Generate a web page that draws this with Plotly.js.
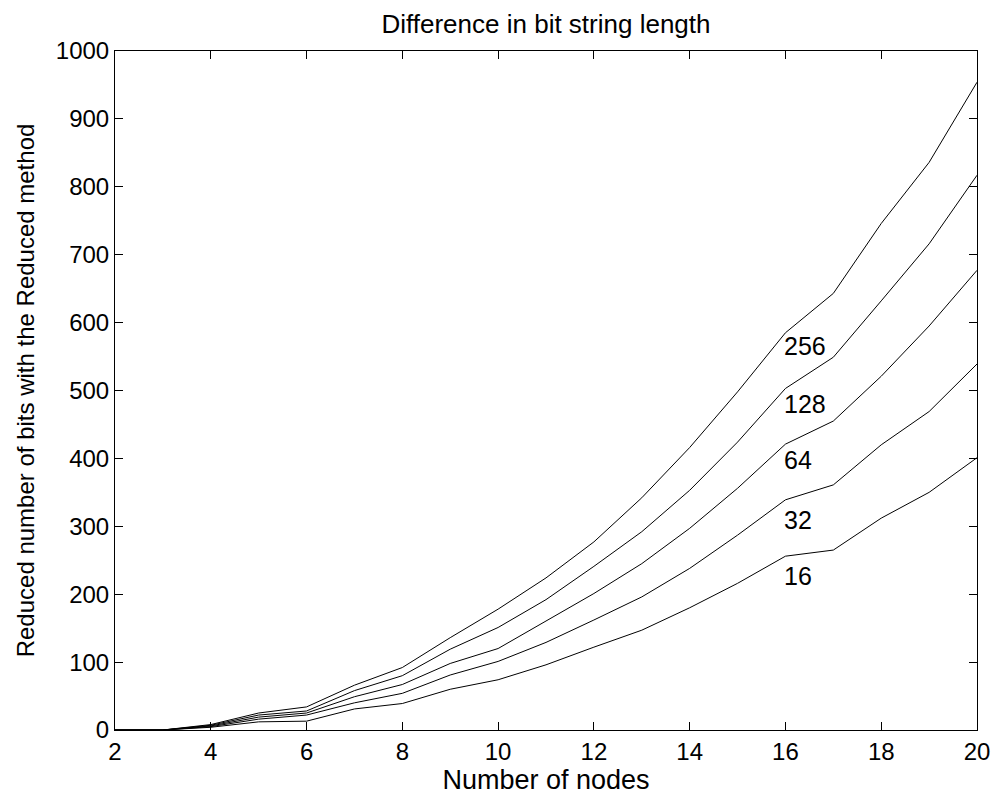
<!DOCTYPE html>
<html>
<head>
<meta charset="utf-8">
<script src="https://cdn.plot.ly/plotly-3.0.1.min.js"></script>
<style>html,body{margin:0;padding:0;background:#fff;}#chart{width:994px;height:796px;}</style>
</head>
<body>
<div id="chart"></div>
<script>
const nodes = [2,3,4,5,6,7,8,9,10,11,12,13,14,15,16,17,18,19,20];
const series16  = [0,0,4,12,13,31,39,60,74,96,122,147,180,216,256,265,312,350,401];
const series32  = [0,0,5,16,22,40,54,81,101,129,162,196,238,287,339,361,420,469,539];
const series64  = [0,0,6,19,25,49,67,98,120,160,201,245,297,356,421,455,521,595,677];
const series128 = [0,0,7,22,28,58,80,119,151,192,241,292,353,424,503,549,632,716,817];
const series256 = [0,0,8,25,34,66,92,136,178,224,277,342,416,498,585,643,746,836,954];
const seriesNames = ['16','32','64','128','256'];
const labelX = [16,16,16,16,16];
const labelY = [227,310,398,480,565];

const allSeries = [series16, series32, series64, series128, series256];
const font = 'Liberation Sans, Arial, Helvetica, sans-serif';

const traces = allSeries.map((s, i) => ({
  x: nodes, y: s, type: 'scatter', mode: 'lines', name: seriesNames[i],
  line: {color: '#000', width: 1}, showlegend: false, hoverinfo: 'skip'
}));

const annotations = seriesNames.map((n, i) => ({
  x: labelX[i], y: labelY[i], xref: 'x', yref: 'y', text: n, showarrow: false,
  xanchor: 'left', yanchor: 'middle', xshift: -3, font: {family: font, size: 25, color: '#000'}
}));

const axisCommon = {
  showline: true, linecolor: '#000', linewidth: 1, mirror: 'ticks',
  ticks: 'inside', ticklen: 8, tickcolor: '#000', tickwidth: 1,
  showgrid: false, zeroline: false,
  tickfont: {family: font, size: 24, color: '#000'}
};

const layout = {
  width: 994, height: 796,
  margin: {l: 115, r: 17, t: 51, b: 66},
  paper_bgcolor: '#fff', plot_bgcolor: '#fff',
  title: {text: 'Difference in bit string length', font: {family: font, size: 26, color: '#000'},
          x: 0.5, xref: 'paper', xanchor: 'center', y: 0.970, yanchor: 'middle', yref: 'container'},
  xaxis: Object.assign({}, axisCommon, {
    range: [2, 20], tick0: 2, dtick: 2,
    title: {text: 'Number of nodes', font: {family: font, size: 27, color: '#000'}, standoff: 2}
  }),
  yaxis: Object.assign({}, axisCommon, {
    range: [0, 1000], tick0: 0, dtick: 100,
    title: {text: 'Reduced number of bits with the Reduced method', font: {family: font, size: 24, color: '#000'}, standoff: 14}
  }),
  annotations: annotations,
  showlegend: false
};

Plotly.newPlot('chart', traces, layout, {displayModeBar: false, staticPlot: true});
</script>
</body>
</html>
